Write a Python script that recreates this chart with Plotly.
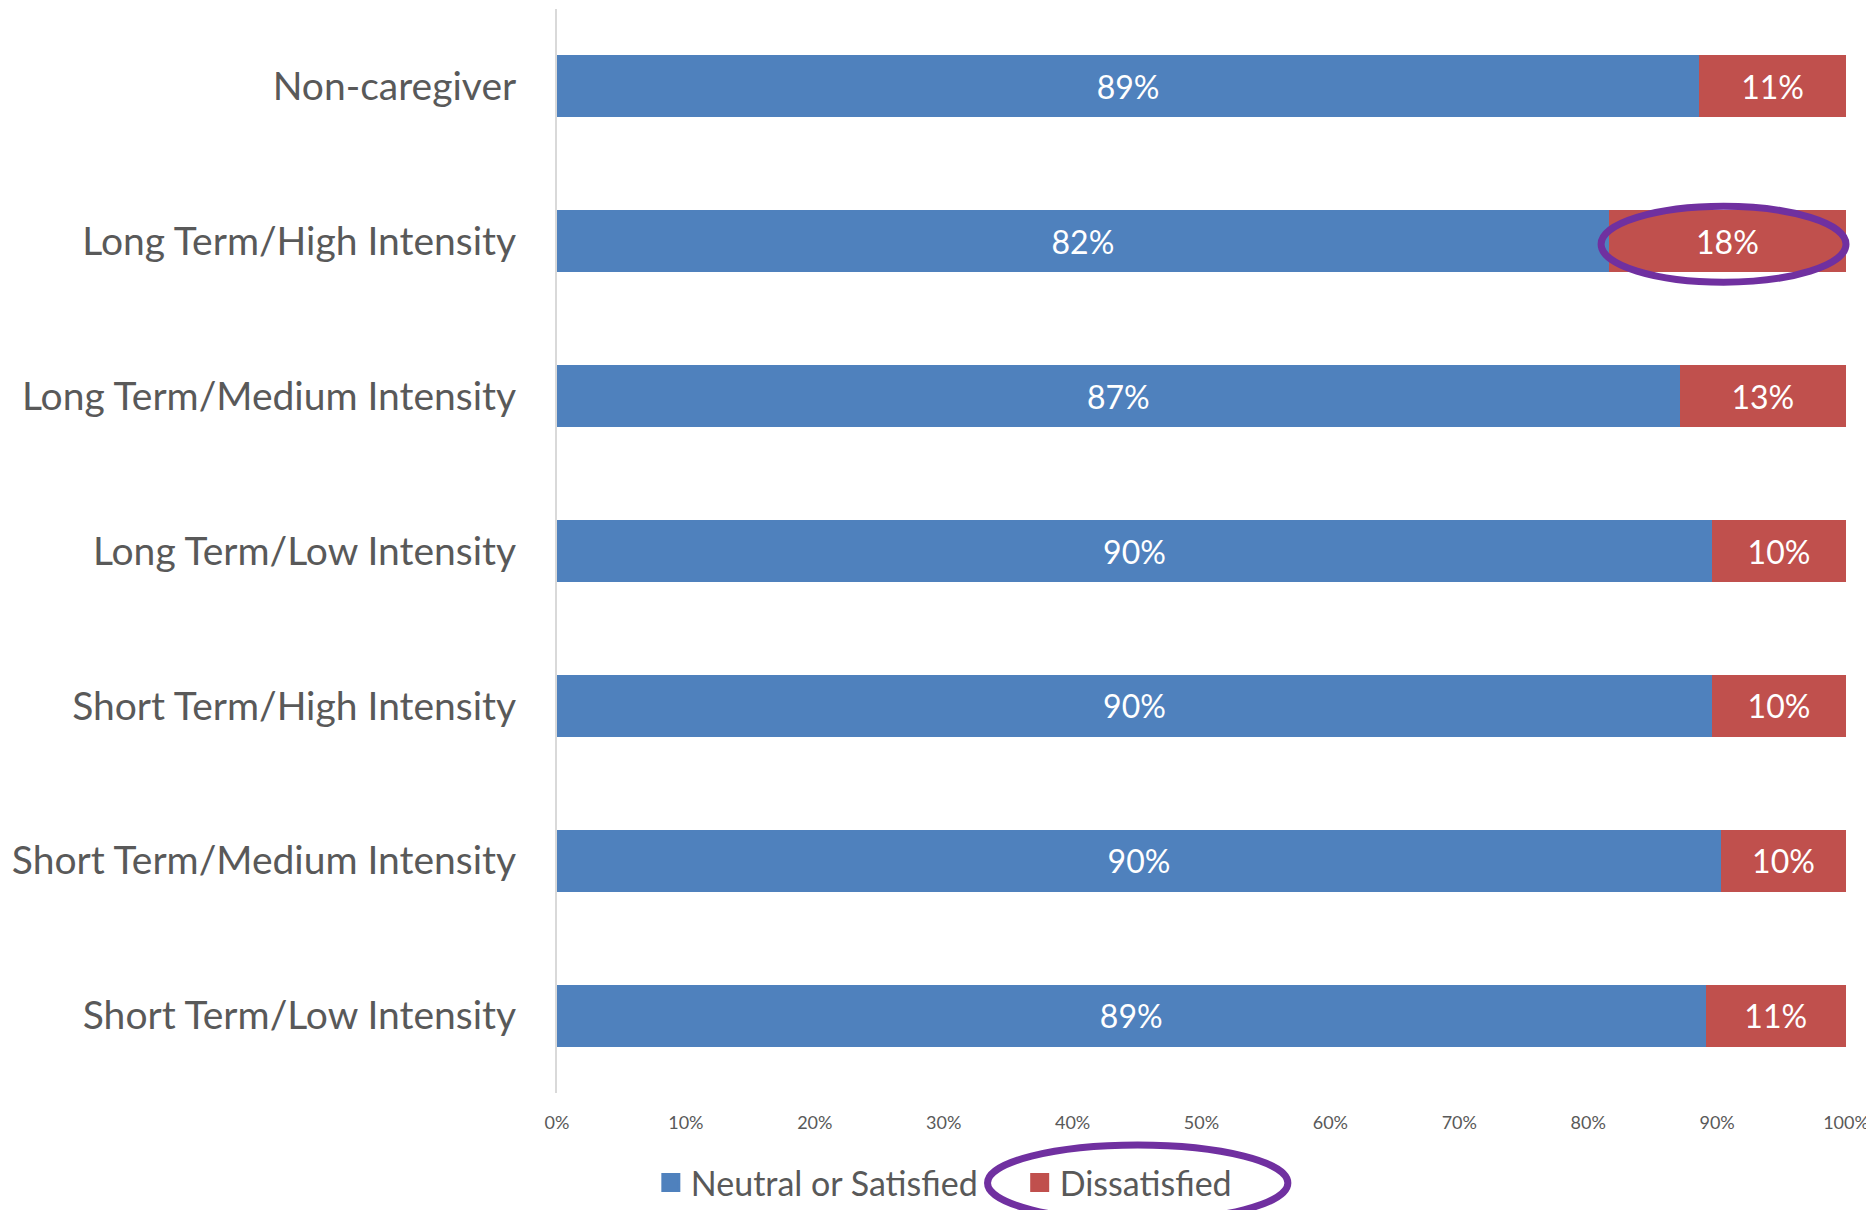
import plotly.graph_objects as go

categories = [
    "Non-caregiver",
    "Long Term/High Intensity",
    "Long Term/Medium Intensity",
    "Long Term/Low Intensity",
    "Short Term/High Intensity",
    "Short Term/Medium Intensity",
    "Short Term/Low Intensity",
]
neutral_or_satisfied = [0.886, 0.816, 0.871, 0.896, 0.896, 0.903, 0.891]
dissatisfied = [0.114, 0.184, 0.129, 0.104, 0.104, 0.097, 0.109]
x_ticks = [0, 0.1, 0.2, 0.3, 0.4, 0.5, 0.6, 0.7, 0.8, 0.9, 1.0]
series_names = ["Neutral or Satisfied", "Dissatisfied"]

FONT = "Lato"
BLUE = "#4F81BD"
RED = "#C0504D"
PURPLE = "#7030A0"
GREY = "#595959"

# page is offset by the browser's default 8px body margin
W, H = 1866, 1202

fig = go.Figure()
for vals, name, col in [(neutral_or_satisfied, series_names[0], BLUE),
                        (dissatisfied, series_names[1], RED)]:
    fig.add_trace(go.Bar(
        y=categories, x=vals, name=name, showlegend=False,
        orientation="h", marker=dict(color=col, line=dict(width=0)),
        texttemplate="%{x:.0%}", textposition="inside", insidetextanchor="middle",
        textfont=dict(color="white", size=32, family=FONT),
    ))

# legend entries with larger square swatches
for name, col, pad in [(series_names[0], BLUE, "\u00a0" * 4 + "\u200a"), (series_names[1], RED, "")]:
    fig.add_trace(go.Scatter(
        x=[None], y=[None], mode="markers", name=name + pad,
        marker=dict(symbol="square", size=16, color=col, line=dict(color=col, width=3)),
    ))

# highlight ellipses
fig.add_shape(type="circle", xref="paper", yref="paper",
              x0=0.81, x1=1.0, y0=0.748, y1=0.818,
              line=dict(color=PURPLE, width=7))
fig.add_shape(type="circle", xref="paper", yref="paper",
              x0=0.334, x1=0.567, y0=-0.118, y1=-0.048,
              line=dict(color=PURPLE, width=7))

fig.update_layout(
    width=W, height=H,
    barmode="stack", bargap=0.6,
    plot_bgcolor="white", paper_bgcolor="white",
    margin=dict(l=549, r=28, t=1, b=117, autoexpand=False),
    font=dict(family=FONT, color=GREY),
    showlegend=True,
    legend=dict(orientation="h", xref="container", x=0.3445, xanchor="left",
                yref="container", y=0.0225, yanchor="middle",
                bgcolor="rgba(0,0,0,0)",
                font=dict(size=34, color=GREY, family=FONT),
                traceorder="normal"),
    xaxis=dict(range=[0, 1], tickvals=x_ticks, tickformat=".0%", automargin=False,
               showgrid=False, zeroline=False, showline=False,
               tickfont=dict(size=18, color=GREY, family=FONT), ticks="",
               ticklabelstandoff=17),
    yaxis=dict(autorange="reversed", showline=True, linecolor="#D9D9D9", linewidth=2,
               showgrid=False, ticks="", ticklabelstandoff=31, automargin=False,
               tickfont=dict(size=39, color=GREY, family=FONT)),
)

fig.write_html("out.html")
